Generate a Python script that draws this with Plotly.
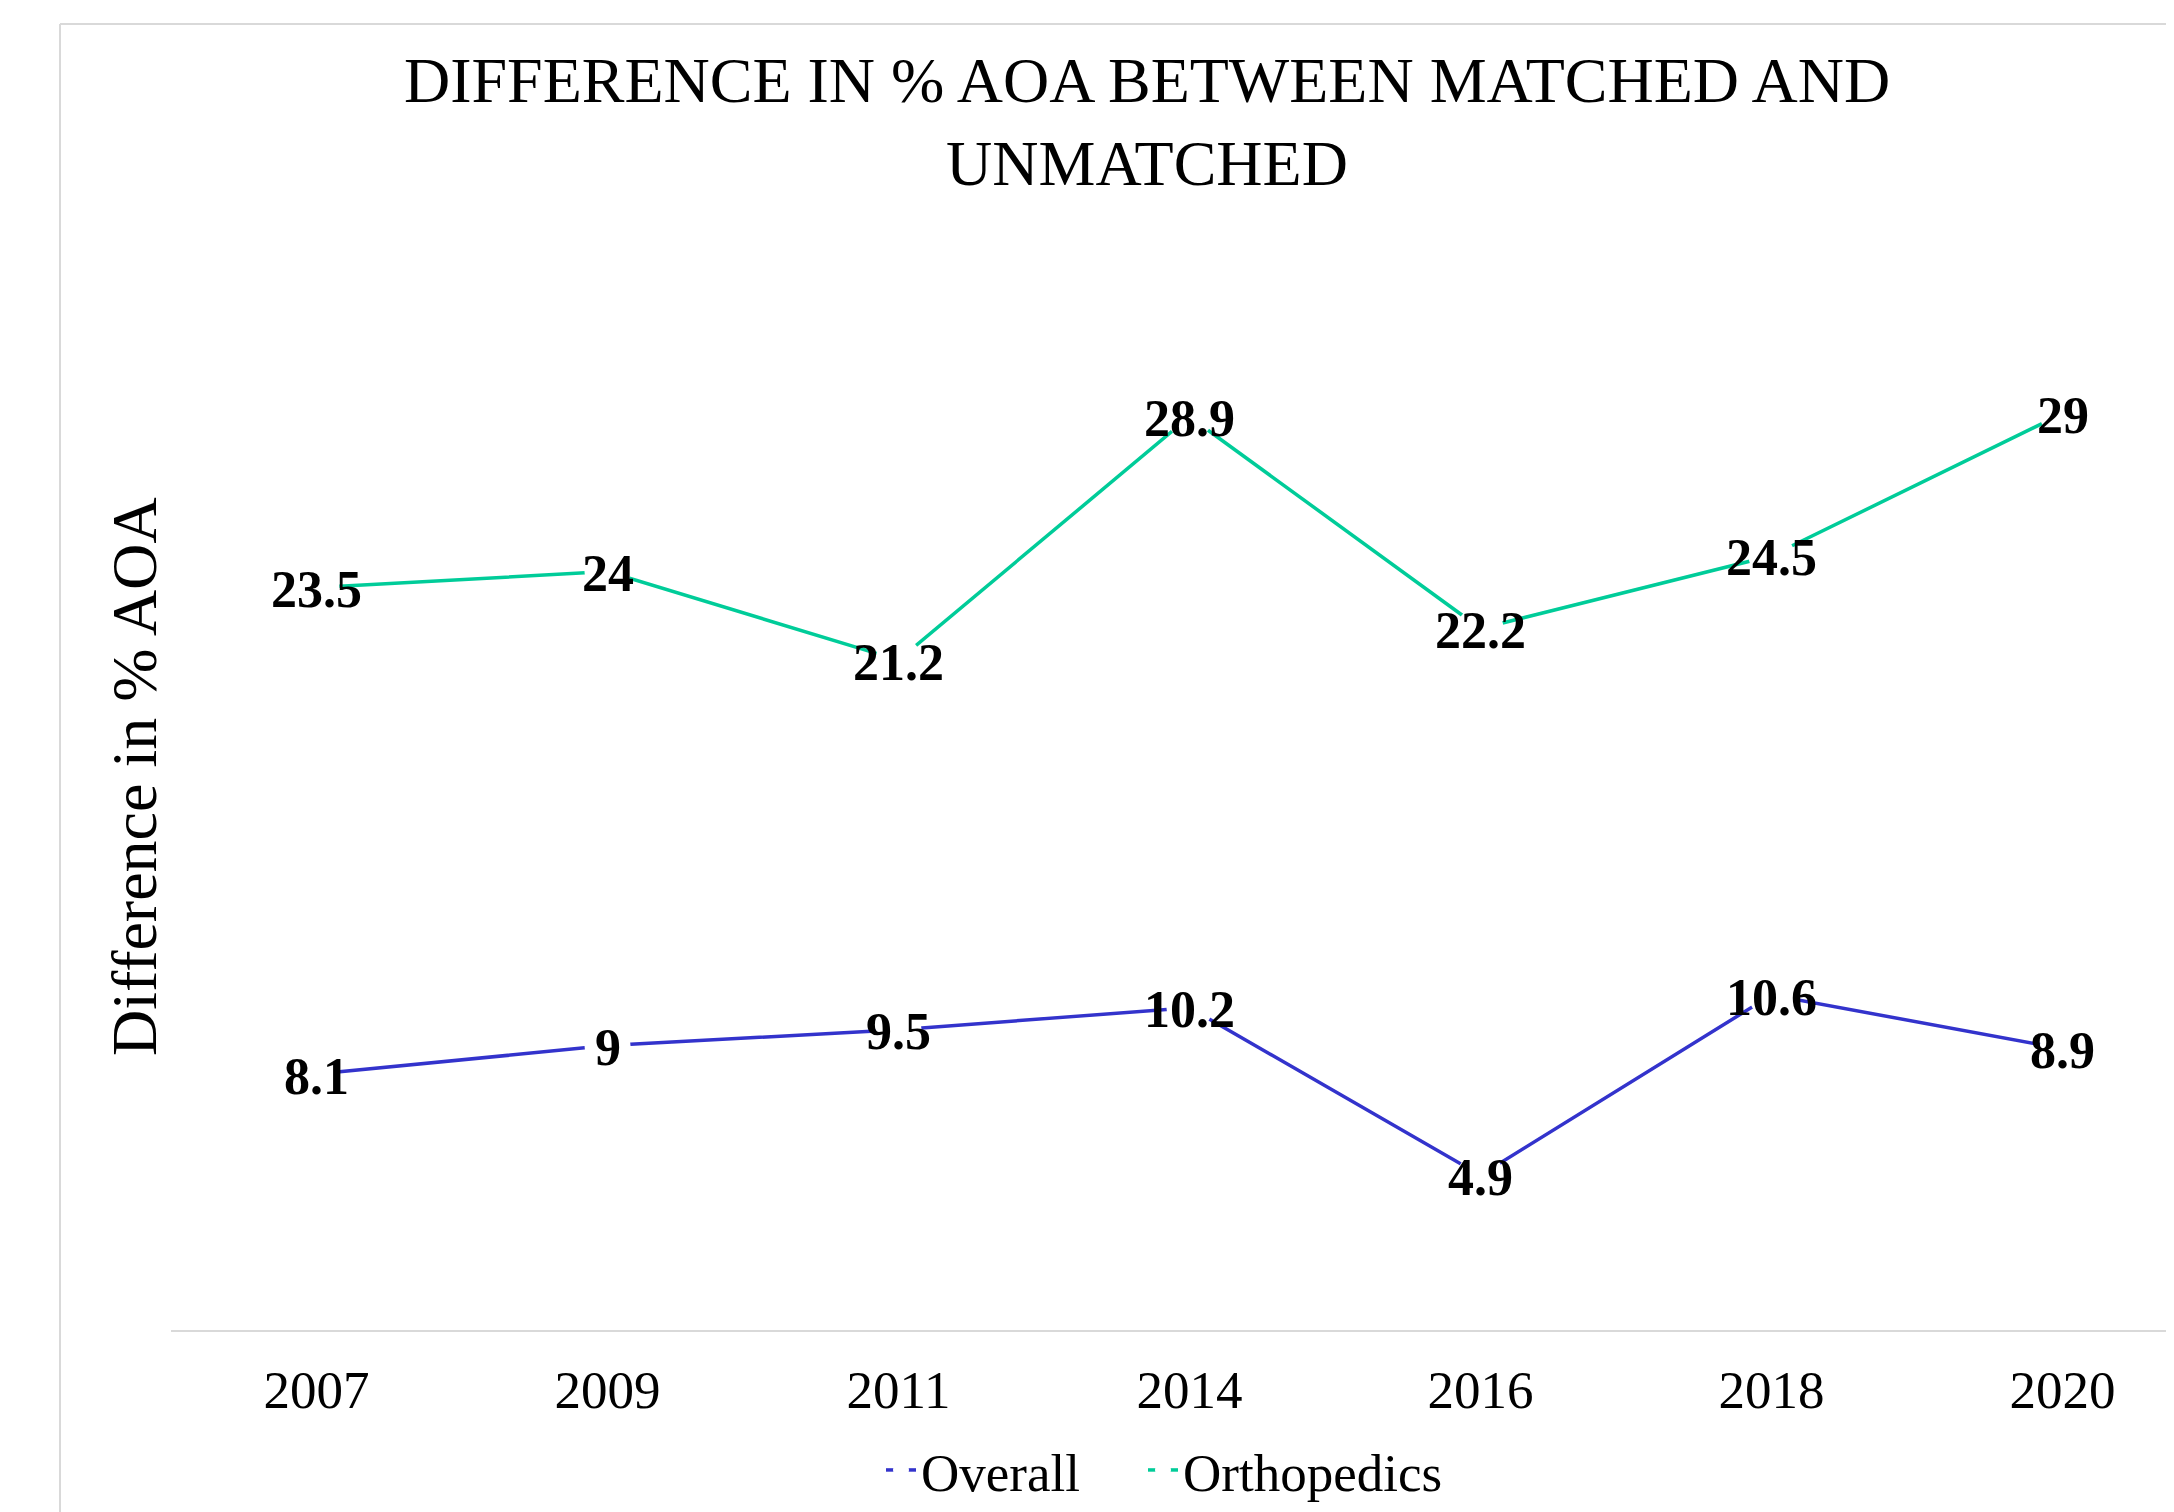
import plotly.graph_objects as go

# ---- data ----
years = ["2007", "2009", "2011", "2014", "2016", "2018", "2020"]
overall = [8.1, 9, 9.5, 10.2, 4.9, 10.6, 8.9]
orthopedics = [23.5, 24, 21.2, 28.9, 22.2, 24.5, 29]
series_names = ["Overall", "Orthopedics"]
series_colors = ["#3333CC", "#00CC99"]

title_text = "DIFFERENCE IN % AOA BETWEEN MATCHED AND<br>UNMATCHED"
y_title = "Difference in % AOA"

FONT = "Liberation Serif, Times New Roman, serif"
W, H = 2174, 1512
OFF = 8  # page body margin
L, T = 163, 216
AXIS_Y = 1322
B = H - AXIS_Y
plot_w = W - L
plot_h = AXIS_Y - T

def px_x(p):
    return (p - L) / plot_w

def px_y(p):
    return (AXIS_Y - p) / plot_h

legend_ids = ["legend", "legend2"]
legend_x = [873, 1135]

fig = go.Figure()
for name, vals, col, lg in zip(series_names, [overall, orthopedics], series_colors, legend_ids):
    fig.add_trace(go.Scatter(
        x=years, y=vals, name=name, mode="lines+markers",
        line=dict(color=col, width=3.5),
        marker=dict(size=46, color="white", line=dict(width=0)),
        cliponaxis=False, legend=lg,
    ))
    # data labels: category axes take the category's serial number
    for idx, yv in enumerate(vals):
        fig.add_annotation(x=idx, y=yv, xref="x", yref="y", text=f"{yv:g}",
                           showarrow=False, xanchor="center", yanchor="middle",
                           yshift=-2,
                           font=dict(family=FONT, size=52, color="black", weight="bold"))

legend_common = dict(orientation="h", xanchor="left", y=px_y(1462), yanchor="middle",
                     font=dict(family=FONT, size=53, color="black"),
                     bgcolor="rgba(0,0,0,0)")

fig.update_layout(
    width=W, height=H,
    margin=dict(l=L, r=0, t=T, b=B, autoexpand=False),
    paper_bgcolor="white", plot_bgcolor="white",
    font=dict(family=FONT, color="black", size=52),
    title=dict(text=title_text, xref="container", x=(1147 - OFF) / W, xanchor="center",
               yref="container", y=1 - 94 / H, yanchor="middle",
               font=dict(family=FONT, size=64, color="black")),
    xaxis=dict(type="category", categoryorder="array", categoryarray=years,
               range=[-0.5, -0.5 + plot_w / 291.0],
               showline=True, linecolor="#D9D9D9", linewidth=2,
               showgrid=False, zeroline=False, ticks="",
               ticklabelstandoff=12,
               tickfont=dict(family=FONT, size=53, color="black")),
    yaxis=dict(range=[0, 35], showline=False, showgrid=False, zeroline=False,
               showticklabels=False, ticks=""),
    legend=dict(x=px_x(legend_x[0]), **legend_common),
    legend2=dict(x=px_x(legend_x[1]), **legend_common),
    showlegend=True,
)

# y-axis title
fig.add_annotation(text=y_title, xref="paper", yref="paper",
                   x=px_x(126), y=px_y(769), xanchor="center", yanchor="middle",
                   textangle=-90, showarrow=False,
                   font=dict(family=FONT, size=64, color="black"))

# chart-area border (left and top edges visible in the crop)
fig.add_shape(type="line", xref="paper", yref="paper",
              x0=px_x(60 - OFF), x1=px_x(60 - OFF), y0=px_y(24 - OFF), y1=px_y(H + 5),
              line=dict(color="#D9D9D9", width=2))
fig.add_shape(type="line", xref="paper", yref="paper",
              x0=px_x(60 - OFF), x1=px_x(W + 5), y0=px_y(24 - OFF), y1=px_y(24 - OFF),
              line=dict(color="#D9D9D9", width=2))

fig.write_html("out.html")
